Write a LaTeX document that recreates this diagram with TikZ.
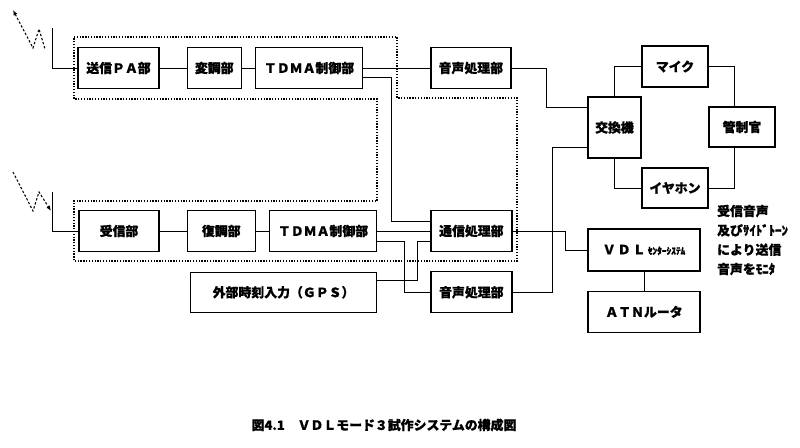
\documentclass[tikz,border=0pt]{standalone}
\usepackage{fontspec}
\setmainfont{Noto Sans CJK JP}[BoldFeatures={FakeBold=0.8}]
\usetikzlibrary{arrows.meta,positioning,calc}

\begin{document}
\begin{tikzpicture}[
		x=0.03cm, y=-0.03cm,
		font=\bfseries\fontsize{11}{13}\selectfont,
		block/.style={draw, line width=1.1pt, minimum height=1.23cm, inner sep=1pt},
		link/.style={line width=0.75pt},
		group/.style={line width=1pt, dash pattern=on 1.1pt off 1.3pt},
		wave/.style={line width=0.9pt, dash pattern=on 2pt off 1.6pt},
	]
		\useasboundingbox (0,0) rectangle (800,448);

		% transmit chain
		\node[block, minimum width=2.43cm] (pa) at (118.5,68) {送信ＰＡ部};
		\node[block, minimum width=1.62cm, right=0.81cm of pa] (mod) {変調部};
		\node[block, minimum width=3.21cm, right=0.39cm of mod] (tdmaT) {ＴＤＭＡ制御部};
		\node[block, minimum width=2.4cm, right=2.01cm of tdmaT] (voiceT) {音声処理部};

		% receive chain
		\node[block, minimum width=2.4cm] (rx) at (119,231) {受信部};
		\node[block, minimum width=2.04cm, right=0.81cm of rx] (demod) {復調部};
		\node[block, minimum width=3.21cm, right=0.39cm of demod] (tdmaB) {ＴＤＭＡ制御部};
		\node[block, minimum width=2.43cm, right=1.59cm of tdmaB] (comm) {通信処理部};
		\node[block, minimum width=2.43cm, below=0.57cm of comm] (voiceB) {音声処理部};
		\node[block, minimum width=5.58cm, minimum height=1.2cm, left=1.59cm of voiceB] (gps) {外部時刻入力（ＧＰＳ）};

		% controller side
		\node[block, minimum width=1.59cm, minimum height=1.83cm] (sw) at (614.5,127.5) {交換機};
		\node[block, minimum width=1.98cm] (mic) at (675,66.5) {マイク};
		\node[block, minimum width=1.98cm, minimum height=1.2cm] (ctl) at (742,127) {管制官};
		\node[block, minimum width=1.98cm, minimum height=1.2cm] (ear) at (675,188) {イヤホン};
		\node[block, minimum width=3.36cm, minimum height=1.26cm] (vdl) at (644,250) {Ｖ\,Ｄ\,Ｌ\,{\fontsize{8}{9}\selectfont ｾﾝﾀｰｼｽﾃﾑ}};
		\node[block, minimum width=3.36cm, below=0.57cm of vdl] (atn) {ＡＴＮルータ};

		\node[align=left, anchor=west, font=\bfseries\fontsize{11}{16.5}\selectfont] (note) at (713,240) {受信音声\\及びｻｲﾄﾞﾄｰﾝ\\により送信\\音声をﾓﾆﾀ};
		\node[font=\bfseries\fontsize{11}{12}\selectfont] (caption) at (384,425) {図4.1　ＶＤＬモード３試作システムの構成図};

		% radio unit outline
		\draw[group] (74,37) -- (397,37) -- (397,98) -- (517,98) -- (517,261) -- (74,261)
			-- (74,201) -- (377,201) -- (377,99) -- (74,99) -- cycle;

		% antennas
		\coordinate (antT) at (52,28);
		\coordinate (antB) at (52,192);
		\draw[wave, {Latex[length=4.5pt,width=3.5pt]}-] (13,10) -- (33,48) -- (39,29) -- (45,49);
		\draw[wave, -{Latex[length=4.5pt,width=3.5pt]}] (13,172) -- (33,211) -- (39,192) -- (51,211);

		\draw[link] (antT) |- (pa.west);
		\draw[link] (pa) -- (mod);
		\draw[link] (mod) -- (tdmaT);
		\draw[link] (tdmaT) -- (voiceT);
		\draw[link] ($(tdmaT.east)+(0,9)$) -| ($(comm.west)+(-39,-10)$) -- ($(comm.west)+(0,-10)$);
		\draw[link] (voiceT) -| ($(sw.west)+(-41,-20)$) -- ($(sw.west)+(0,-20)$);
		\draw[link] (sw) |- (mic);
		\draw[link] (mic) -| ($(ctl.north)+(-8,0)$);
		\draw[link] ($(ctl.south)+(-8,0)$) |- (ear);
		\draw[link] (sw) |- (ear);
		\draw[link] ($(sw.west)+(0,20)$) -| ($(voiceB.east)+(40,0)$) -- (voiceB);
		\draw[link] (comm.east) -- ++(53,0) |- (vdl.west);
		\draw[link] (vdl) -- (atn);

		\draw[link] (antB) |- (rx.west);
		\draw[link] (rx) -- (demod);
		\draw[link] (demod) -- (tdmaB);
		\draw[link] (tdmaB) -- (comm);
		\draw[link] ($(tdmaB.east)+(0,10)$) -| ($(voiceB.west)+(-26,0)$) -- (voiceB.west);
		\draw[link] ($(gps.east)+(0,-12)$) -| ($(comm.west)+(-13,10)$) -- ($(comm.west)+(0,10)$);
	\end{tikzpicture}
\end{document}
